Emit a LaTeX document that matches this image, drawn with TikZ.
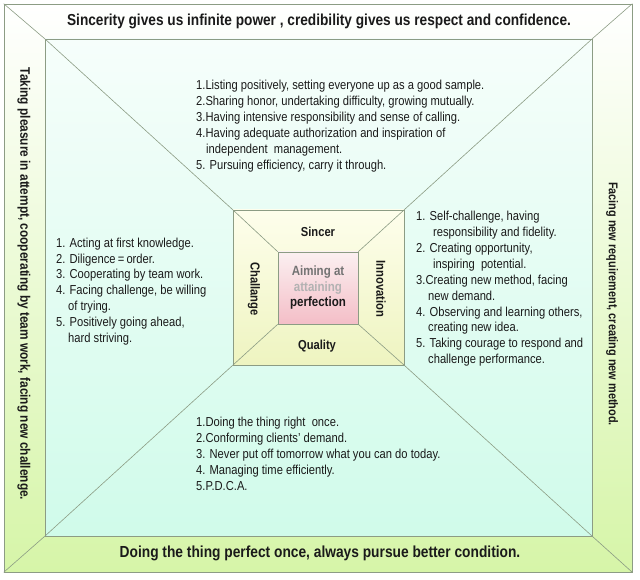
\documentclass[tikz,border=0pt]{standalone}
\usepackage{fontspec}
\setmainfont{Liberation Sans}[FakeStretch=0.86]
\definecolor{linec}{HTML}{8C9C84}
\definecolor{bandtop}{HTML}{FFFFFF}
\definecolor{bandbot}{HTML}{D6F5A8}
\definecolor{intop}{HTML}{F6FEFB}
\definecolor{inbot}{HTML}{D0FBEA}
\definecolor{ctop}{HTML}{FEFEEC}
\definecolor{cbot}{HTML}{EEF4C0}
\definecolor{ptop}{HTML}{FBF0F1}
\definecolor{pbot}{HTML}{F4BEC7}
\definecolor{txt}{HTML}{1A1A1A}
\begin{document}
\begin{tikzpicture}[x=1pt,y=-1pt,
  box/.style={draw=linec, line width=0.6pt, inner sep=0pt},
  diag/.style={draw=linec, line width=0.6pt},
  body/.style={font=\fontsize{13}{15.9}\selectfont, text=txt, align=left, anchor=north west, inner sep=0pt},
  band/.style={font=\bfseries\fontsize{15.9}{18}\selectfont, text=txt, inner sep=0pt},
  side/.style={font=\bfseries\fontsize{13.8}{15}\selectfont, text=txt, inner sep=0pt, rotate=-90},
  clabel/.style={font=\bfseries\fontsize{13}{15}\selectfont, text=txt, inner sep=0pt}]
\useasboundingbox (0,0) rectangle (640,580);
\fill[white] (0,0) rectangle (640,580);
% frames
\node[box, top color=bandtop, bottom color=bandbot, minimum width=628pt, minimum height=568pt] (outer) at (318,288) {};
\node[box, top color=intop, bottom color=inbot, minimum width=547pt, minimum height=497pt] (inner) at (318.5,287.5) {};
\draw[diag] (outer.north west) -- (inner.north west);
\draw[diag] (outer.north east) -- (inner.north east);
\draw[diag] (outer.south west) -- (inner.south west);
\draw[diag] (outer.south east) -- (inner.south east);
\node[box, top color=ctop, bottom color=cbot, minimum width=171pt, minimum height=155pt] (cbox) at (318.5,287.5) {};
\draw[diag] (inner.north west) -- (cbox.north west);
\draw[diag] (inner.north east) -- (cbox.north east);
\draw[diag] (inner.south west) -- (cbox.south west);
\draw[diag] (inner.south east) -- (cbox.south east);
\node[box, top color=ptop, bottom color=pbot, minimum width=80pt, minimum height=72pt] (pbox) at (318,288) {};
\draw[diag] (cbox.north west) -- (pbox.north west);
\draw[diag] (cbox.north east) -- (pbox.north east);
\draw[diag] (cbox.south west) -- (pbox.south west);
\draw[diag] (cbox.south east) -- (pbox.south east);
% band texts
\node[band] (ttop) at (319,21) {Sincerity gives us infinite power , credibility gives us respect and confidence.};
\node[band, font=\bfseries\fontsize{16}{18}\selectfont] (tbot) at (320,553) {Doing the thing perfect once, always pursue better condition.};
\node[side] (tleft) at (24,284) {Taking pleasure in attempt, cooperating by team work, facing new challenge.};
\node[side, font=\bfseries\fontsize{12.7}{14}\selectfont] (tright) at (612,304) {Facing new requirement, creating new method.};
% center labels
\node[clabel] (lsin) at (318,232) {Sincer};
\node[clabel] (lqua) at (317,346) {Quality};
\node[clabel, rotate=-90] (lcha) at (254,289) {Challange};
\node[clabel, rotate=-90] (linn) at (381,289) {Innovation};
\node[clabel, align=center, font=\bfseries\fontsize{13.4}{15.5}\selectfont] (lcen) at (318,288) {\textcolor{gray!90!black}{Aiming at}\\\textcolor{gray!60}{attaining}\\perfection};
% body texts
\node[body] (btop) at (196,80) {1.Listing positively, setting everyone up as a good sample.\\
2.Sharing honor, undertaking difficulty, growing mutually.\\
3.Having intensive responsibility and sense of calling.\\
4.Having adequate authorization and inspiration of\\
\hspace*{10pt}independent\ \ management.\\
5. Pursuing efficiency, carry it through.};
\node[body] (bleft) at (56,237.5) {1. Acting at first knowledge.\\
2. Diligence\,=\,order.\\
3. Cooperating by team work.\\
4. Facing challenge, be willing\\
\hspace*{12pt}of\ trying.\\
5. Positively going ahead,\\
\hspace*{12pt}hard striving.};
\node[body] (bright) at (416,211) {1. Self-challenge, having\\
\hspace*{17pt}responsibility and fidelity.\\
2. Creating opportunity,\\
\hspace*{17pt}inspiring\ \ potential.\\
3.Creating new method, facing\\
\hspace*{12pt}new demand.\\
4. Observing and learning others,\\
\hspace*{12pt}creating new idea.\\
5. Taking courage to respond and\\
\hspace*{12pt}challenge performance.};
\node[body] (bbot) at (196,417) {1.Doing the thing right\ \ once.\\
2.Conforming clients’ demand.\\
3. Never put off tomorrow what you can do today.\\
4. Managing time efficiently.\\
5.P.D.C.A.};
\end{tikzpicture}
\end{document}
